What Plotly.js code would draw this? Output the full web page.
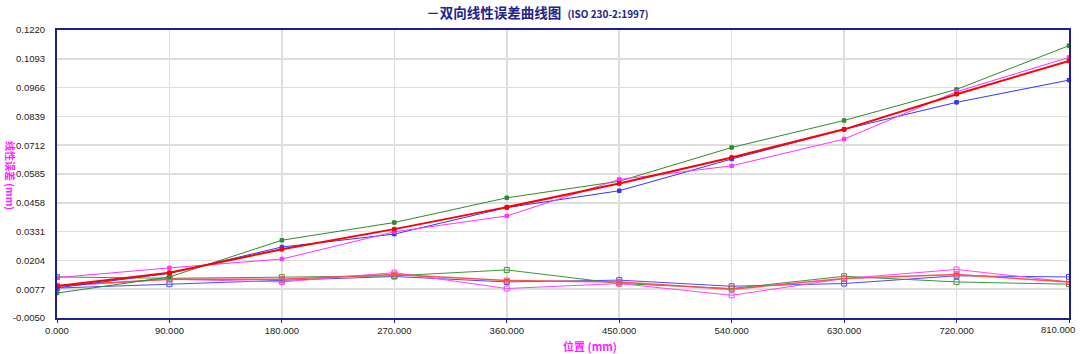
<!DOCTYPE html>
<html>
<head>
<meta charset="utf-8">
<script src="https://cdn.plot.ly/plotly-3.0.1.min.js"></script>
<style>
html,body{margin:0;padding:0;background:#fff;}
#chart{width:1080px;height:354px;}
</style>
</head>
<body>
<div id="chart"></div>
<script>
// Positions (mm)
const positions = [0, 90, 180, 270, 360, 450, 540, 630, 720, 810];

// Upper group (filled markers)
const blueUp    = [0.0083, 0.0147, 0.0263, 0.0320, 0.0437, 0.0511, 0.0651, 0.0782, 0.0901, 0.0999];
const greenUp   = [0.0060, 0.0131, 0.0293, 0.0371, 0.0480, 0.0553, 0.0702, 0.0821, 0.0958, 0.1151];
const magentaUp = [0.0128, 0.0171, 0.0210, 0.0330, 0.0400, 0.0561, 0.0621, 0.0739, 0.0948, 0.1099];
const redUp     = [0.0091, 0.0150, 0.0253, 0.0342, 0.0439, 0.0543, 0.0658, 0.0782, 0.0937, 0.1084];

// Lower group (hollow markers)
const blueLo    = [0.0082, 0.0099, 0.0116, 0.0133, 0.0109, 0.0117, 0.0090, 0.0102, 0.0136, 0.0131];
const greenLo   = [0.0131, 0.0125, 0.0130, 0.0136, 0.0162, 0.0102, 0.0080, 0.0134, 0.0109, 0.0099];
const magentaLo = [0.0090, 0.0121, 0.0109, 0.0150, 0.0080, 0.0102, 0.0050, 0.0124, 0.0164, 0.0109];
const redLo     = [0.0092, 0.0121, 0.0121, 0.0142, 0.0115, 0.0109, 0.0077, 0.0124, 0.0142, 0.0109];

// Axis ticks
const yTickVals = [-0.0050, 0.0077, 0.0204, 0.0331, 0.0458, 0.0585, 0.0712, 0.0839, 0.0966, 0.1093, 0.1220];
const yTickText = ["-0.0050", "0.0077", "0.0204", "0.0331", "0.0458", "0.0585", "0.0712", "0.0839", "0.0966", "0.1093", "0.1220"];
const xTickVals = [0, 90, 180, 270, 360, 450, 540, 630, 720, 810];
const xTickText = ["0.000", "90.000", "180.000", "270.000", "360.000", "450.000", "540.000", "630.000", "720.000", "810.000"];

// The last x label is pulled in from the right edge (as in the reference),
// so it is drawn as an annotation anchored at the last tick value.
const lastIdx = xTickText.length - 1;
const xTickShown = xTickText.map((t, i) => i === lastIdx ? '' : t);

function tr(y, color, width, symbol, msize) {
  return {
    x: positions, y: y, type: 'scatter', mode: 'lines+markers',
    line: {color: color, width: width},
    marker: {symbol: symbol, size: msize, color: color, line: {color: color, width: 1}},
    hoverinfo: 'skip', showlegend: false
  };
}

const data = [
  tr(blueLo, '#4a4aff', 1, 'square-open', 5),
  tr(greenLo, '#3c963c', 1, 'square-open', 5),
  tr(magentaLo, '#ff44ff', 1, 'square-open', 5),
  tr(redLo, '#ff5050', 1.5, 'square-open', 5),
  tr(blueUp, '#3434ff', 1, 'square', 3.5),
  tr(greenUp, '#2e8b2e', 1, 'square', 3.5),
  tr(magentaUp, '#ff33ff', 1, 'square', 3.5),
  tr(redUp, '#ff0000', 2, 'square', 3.5)
];

const navy = '#1e1e96';
const tickFont = {family: 'Liberation Sans, Arial, sans-serif', size: 9.5, color: '#222'};
const layout = {
  width: 1080, height: 354,
  margin: {l: 57, r: 11, t: 30, b: 36},
  paper_bgcolor: '#ffffff', plot_bgcolor: '#ffffff',
  font: {family: 'Liberation Sans, Arial, sans-serif', size: 10, color: '#222'},
  title: {
    text: '<b>－双向线性误差曲线图</b>  <b><span style="font-size:10px">(ISO 230-2:1997)</span></b>',
    font: {family: 'Noto Sans CJK SC, Liberation Sans, sans-serif', size: 13.5, color: '#22228a'},
    x: 0.4977, xanchor: 'center', xref: 'container',
    y: 0.963, yanchor: 'middle', yref: 'container'
  },
  xaxis: {
    range: [0, 810], tickvals: xTickVals, ticktext: xTickShown,
    showline: true, linecolor: navy, linewidth: 2, mirror: true,
    showgrid: true, gridcolor: '#dedede', gridwidth: 1.5,
    ticks: 'outside', ticklen: 3, tickcolor: navy, tickwidth: 1,
    zeroline: false, fixedrange: true, automargin: false,
    tickfont: tickFont
  },
  yaxis: {
    range: [-0.0050, 0.1220], tickvals: yTickVals, ticktext: yTickText,
    showline: true, linecolor: navy, linewidth: 2, mirror: true,
    showgrid: true, gridcolor: '#dedede', gridwidth: 1.5,
    ticks: '', ticklabelstandoff: 8,
    zeroline: false, fixedrange: true, automargin: false,
    tickfont: tickFont
  },
  annotations: [
    {
      text: xTickText[lastIdx],
      xref: 'x', yref: 'paper', x: xTickVals[lastIdx], y: 0,
      xanchor: 'right', yanchor: 'top', xshift: 8, yshift: -4,
      showarrow: false, font: tickFont
    },
    {
      text: '<b>线性误差 (mm)</b>', textangle: 90,
      xref: 'paper', yref: 'paper', x: -0.046, y: 0.495,
      xanchor: 'center', yanchor: 'middle', showarrow: false,
      font: {family: 'Noto Sans CJK SC, sans-serif', size: 10, color: '#ff22ff'}
    },
    {
      text: '<b>位置 (mm)</b>',
      xref: 'paper', yref: 'paper', x: 0.527, y: -0.097,
      xanchor: 'center', yanchor: 'middle', showarrow: false,
      font: {family: 'Noto Sans CJK SC, sans-serif', size: 11, color: '#ff22ff'}
    }
  ]
};

Plotly.newPlot('chart', data, layout, {displayModeBar: false, staticPlot: true});
</script>
</body>
</html>
